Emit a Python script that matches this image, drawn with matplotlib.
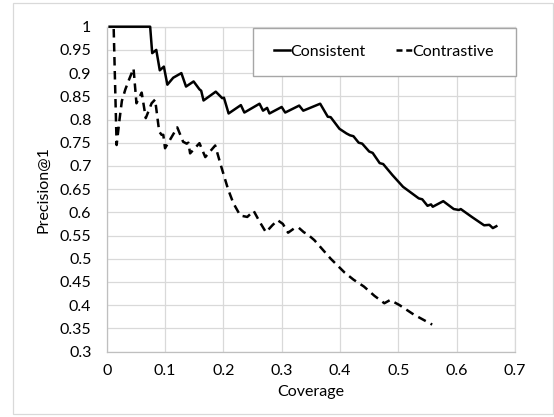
import numpy as np
import matplotlib
matplotlib.use("Agg")
import matplotlib.pyplot as plt
from matplotlib.patches import Rectangle
from matplotlib.lines import Line2D

plt.rcParams['font.family'] = ['Lato', 'DejaVu Sans']

# Consistent
cons_x = [0.005, 0.0745, 0.078, 0.085, 0.091, 0.098, 0.104, 0.114, 0.128, 0.136, 0.149, 0.159,
          0.162, 0.166, 0.187, 0.198, 0.201, 0.209, 0.230, 0.236, 0.262, 0.268, 0.275, 0.279,
          0.300, 0.306, 0.330, 0.337, 0.366, 0.379, 0.384, 0.399, 0.411, 0.417, 0.423, 0.432,
          0.438, 0.450, 0.456, 0.468, 0.474, 0.490, 0.508, 0.535, 0.541, 0.550, 0.556, 0.559,
          0.577, 0.595, 0.604, 0.607, 0.626, 0.647, 0.656, 0.662, 0.668]
cons_y = [1.0, 1.0, 0.943, 0.95, 0.906, 0.914, 0.875, 0.89, 0.90, 0.871, 0.882, 0.865,
          0.862, 0.841, 0.86, 0.846, 0.847, 0.813, 0.831, 0.815, 0.834, 0.819, 0.825, 0.813,
          0.827, 0.815, 0.830, 0.819, 0.834, 0.806, 0.805, 0.78, 0.77, 0.766, 0.764, 0.75,
          0.748, 0.731, 0.728, 0.706, 0.704, 0.68, 0.655, 0.63, 0.628, 0.614, 0.617, 0.612,
          0.624, 0.607, 0.605, 0.607, 0.59, 0.572, 0.573, 0.566, 0.57]

# Contrastive
cont_x = [0.012, 0.017, 0.022, 0.026, 0.032, 0.038, 0.046, 0.051, 0.060, 0.067, 0.077, 0.083,
          0.090, 0.094, 0.097, 0.100, 0.121, 0.131, 0.137, 0.140, 0.143, 0.159, 0.169, 0.186,
          0.196, 0.208, 0.217, 0.229, 0.241, 0.252, 0.262, 0.273, 0.284, 0.293, 0.302, 0.311,
          0.321, 0.329, 0.338, 0.344, 0.356, 0.384, 0.408, 0.423, 0.441, 0.459, 0.476, 0.486,
          0.502, 0.526, 0.558]
cont_y = [0.995, 0.745, 0.80, 0.84, 0.865, 0.885, 0.91, 0.835, 0.858, 0.803, 0.835, 0.843,
          0.774, 0.767, 0.767, 0.738, 0.783, 0.752, 0.748, 0.75, 0.727, 0.749, 0.719, 0.744,
          0.70, 0.65, 0.62, 0.593, 0.59, 0.603, 0.58, 0.557, 0.572, 0.583, 0.575, 0.556,
          0.565, 0.567, 0.557, 0.553, 0.54, 0.50, 0.47, 0.455, 0.44, 0.42, 0.404, 0.411,
          0.40, 0.38, 0.358]

xticks = np.arange(0, 0.71, 0.1)
yticks = np.arange(0.3, 1.001, 0.05)

W, H = 554, 417
fig = plt.figure(figsize=(W / 100, H / 100), dpi=100)
ax = fig.add_axes([106.7 / W, 1 - 351.5 / H, (515 - 106.7) / W, (351.5 - 26.7) / H])

grid_c = '#D9D9D9'
dash = (0, (3.4, 2.2))
ax.plot(cons_x, cons_y, color='black', lw=1.8, clip_on=False, zorder=3)
ax.plot(cont_x, cont_y, color='black', lw=1.8, linestyle=dash, clip_on=False, zorder=3)

ax.set_xlim(0, 0.7)
ax.set_ylim(0.3, 1.0)
ax.set_xticks(xticks)
ax.set_yticks(yticks)
ax.set_xticklabels([('%.1f' % v).rstrip('0').rstrip('.') if v > 0 else '0' for v in xticks])
ax.set_yticklabels([('%.2f' % v).rstrip('0').rstrip('.') for v in yticks])
ax.grid(True, color=grid_c, lw=0.9)
ax.set_axisbelow(True)
for s in ax.spines.values():
    s.set_color(grid_c)
    s.set_linewidth(0.9)
ax.spines['left'].set_color('#BFBFBF')
ax.spines['bottom'].set_color('#BFBFBF')
ax.tick_params(length=0, labelsize=11.5, colors='black')
ax.tick_params(axis='y', pad=11)
ax.tick_params(axis='x', pad=9)
ax.set_xlabel('Coverage', fontsize=11.5, labelpad=5)
ax.set_ylabel('Precision@1', fontsize=11.5, labelpad=7)

# legend box
fig.patches.append(Rectangle((252.7 / W, 1 - 75.7 / H), (516 - 252.7) / W, (75.7 - 28.3) / H,
                             transform=fig.transFigure, fill=True, facecolor='white',
                             edgecolor='#A6A6A6', lw=1.0, zorder=5))
handles = [Line2D([], [], color='black', lw=1.8),
           Line2D([], [], color='black', lw=1.8, linestyle=(0, (2.4, 1.5)))]
fig.legend(handles, ['Consistent', 'Contrastive'], loc='center',
           bbox_to_anchor=(384 / W, 1 - 52 / H), ncol=2, frameon=False,
           handlelength=1.0, handletextpad=0.0, columnspacing=1.9, fontsize=11.5)

# chart border
fig.patches.append(Rectangle((13 / W, 1 - 414 / H), (553 - 13) / W, (414 - 3) / H,
                             transform=fig.transFigure, fill=False,
                             edgecolor=grid_c, lw=0.9))

fig.savefig('out.png', dpi=100)
